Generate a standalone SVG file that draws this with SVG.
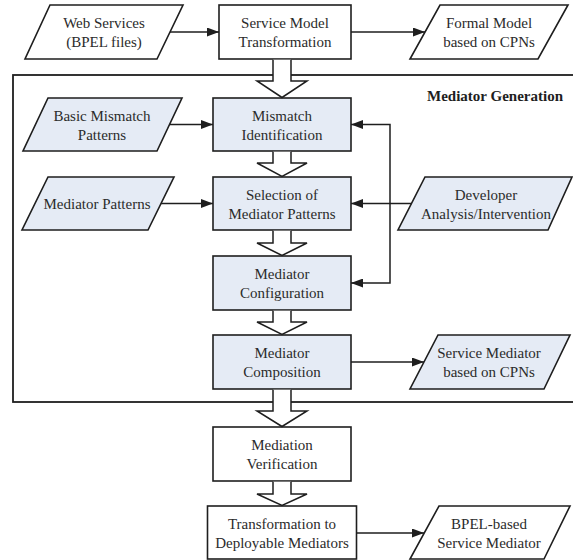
<svg xmlns="http://www.w3.org/2000/svg" width="573" height="560" viewBox="0 0 573 560">
<style>
  .box { fill: #ffffff; stroke: #1e1e1e; stroke-width: 1.6; }
  .blue { fill: #e5ebf5; }
  .t { font-family: "Liberation Serif", "Times New Roman", serif; font-size: 15px; fill: #2b2b2b; text-anchor: middle; }
  .title { font-family: "Liberation Serif", "Times New Roman", serif; font-size: 15px; font-weight: bold; fill: #1e1e1e; text-anchor: end; }
  .line { fill: none; stroke: #1e1e1e; stroke-width: 1.5; }
  .block { fill: #ffffff; stroke: #1e1e1e; stroke-width: 1.5; stroke-linejoin: miter; }
  .frame { fill: none; stroke: #1e1e1e; stroke-width: 1.8; }
</style>
<defs>
  <marker id="ah" markerWidth="12" markerHeight="9" refX="12" refY="4.5" orient="auto" markerUnits="userSpaceOnUse">
    <path d="M0,0 L12,4.5 L0,9 z" fill="#1e1e1e"/>
  </marker>
</defs>

<rect class="frame" x="13" y="75" width="570" height="327"/>
<text class="title" x="563" y="101">Mediator Generation</text>

<g id="web-services">
  <polygon class="box" points="50,5 183,5 157,59 25,59"/>
  <text class="t" x="104" y="28">Web Services</text>
  <text class="t" x="104" y="47">(BPEL files)</text>
</g>
<g id="service-model-transformation">
  <rect class="box" x="219" y="5" width="132" height="54"/>
  <text class="t" x="285" y="28">Service Model</text>
  <text class="t" x="285" y="47">Transformation</text>
</g>
<g id="formal-model">
  <polygon class="box" points="440,5 568,5 538,59 410,59"/>
  <text class="t" x="489" y="28">Formal Model</text>
  <text class="t" x="489" y="47">based on CPNs</text>
</g>
<g id="basic-mismatch-patterns">
  <polygon class="box blue" points="48,98 182,98 157,151 23,151"/>
  <text class="t" x="102" y="120.5">Basic Mismatch</text>
  <text class="t" x="102" y="139.5">Patterns</text>
</g>
<g id="mismatch-identification">
  <rect class="box blue" x="213" y="98" width="138" height="53"/>
  <text class="t" x="282" y="120.5">Mismatch</text>
  <text class="t" x="282" y="139.5">Identification</text>
</g>
<g id="mediator-patterns">
  <polygon class="box blue" points="48,177 174,177 148,230 22,230"/>
  <text class="t" x="97" y="208.5">Mediator Patterns</text>
</g>
<g id="selection-of-mediator-patterns">
  <rect class="box blue" x="213" y="177" width="138" height="53"/>
  <text class="t" x="282" y="199.5">Selection of</text>
  <text class="t" x="282" y="218.5">Mediator Patterns</text>
</g>
<g id="developer-analysis">
  <polygon class="box blue" points="425,177 572,177 548,230 398,230"/>
  <text class="t" x="486" y="199.5">Developer</text>
  <text class="t" x="486" y="218.5">Analysis/Intervention</text>
</g>
<g id="mediator-configuration">
  <rect class="box blue" x="213" y="256" width="138" height="54"/>
  <text class="t" x="282" y="279">Mediator</text>
  <text class="t" x="282" y="298">Configuration</text>
</g>
<g id="mediator-composition">
  <rect class="box blue" x="213" y="335" width="138" height="54"/>
  <text class="t" x="282" y="358">Mediator</text>
  <text class="t" x="282" y="377">Composition</text>
</g>
<g id="service-mediator-cpn">
  <polygon class="box blue" points="438,335 570,335 544,389 410,389"/>
  <text class="t" x="489" y="358">Service Mediator</text>
  <text class="t" x="489" y="377">based on CPNs</text>
</g>
<g id="mediation-verification">
  <rect class="box" x="213" y="427" width="138" height="54"/>
  <text class="t" x="282" y="450">Mediation</text>
  <text class="t" x="282" y="469">Verification</text>
</g>
<g id="transformation-deployable">
  <rect class="box" x="207.5" y="506" width="149" height="53"/>
  <text class="t" x="282" y="529">Transformation to</text>
  <text class="t" x="282" y="548">Deployable Mediators</text>
</g>
<g id="bpel-service-mediator">
  <polygon class="box" points="439,506 570,506 544,559 410,559"/>
  <text class="t" x="489" y="529">BPEL-based</text>
  <text class="t" x="489" y="548">Service Mediator</text>
</g>

<g id="connectors">
  <line class="line" x1="170" y1="32" x2="219" y2="32" marker-end="url(#ah)"/>
  <line class="line" x1="351" y1="32" x2="425" y2="32" marker-end="url(#ah)"/>
  <line class="line" x1="169.5" y1="124.5" x2="213" y2="124.5" marker-end="url(#ah)"/>
  <line class="line" x1="161" y1="203.5" x2="213" y2="203.5" marker-end="url(#ah)"/>
  <line class="line" x1="411.5" y1="203.5" x2="351" y2="203.5" marker-end="url(#ah)"/>
  <polyline class="line" points="390,203.5 390,124.5 351,124.5" marker-end="url(#ah)"/>
  <polyline class="line" points="390,203.5 390,283 351,283" marker-end="url(#ah)"/>
  <line class="line" x1="351" y1="362" x2="424" y2="362" marker-end="url(#ah)"/>
  <line class="line" x1="356.5" y1="533" x2="424" y2="533" marker-end="url(#ah)"/>
  <path class="block" d="M273,59.8 L273,81 L257,81 L282,97.5 L307,81 L291,81 L291,59.8"/>
  <path class="block" d="M273,151.8 L273,163 L257,163 L282,176.5 L307,163 L291,163 L291,151.8"/>
  <path class="block" d="M273,230.8 L273,243 L257,243 L282,255.5 L307,243 L291,243 L291,230.8"/>
  <path class="block" d="M273,310.8 L273,322 L257,322 L282,334.5 L307,322 L291,322 L291,310.8"/>
  <path class="block" d="M273,389.8 L273,411 L257,411 L282,426.5 L307,411 L291,411 L291,389.8"/>
  <path class="block" d="M273,481.8 L273,494 L257,494 L282,505.5 L307,494 L291,494 L291,481.8"/>
</g>
</svg>
